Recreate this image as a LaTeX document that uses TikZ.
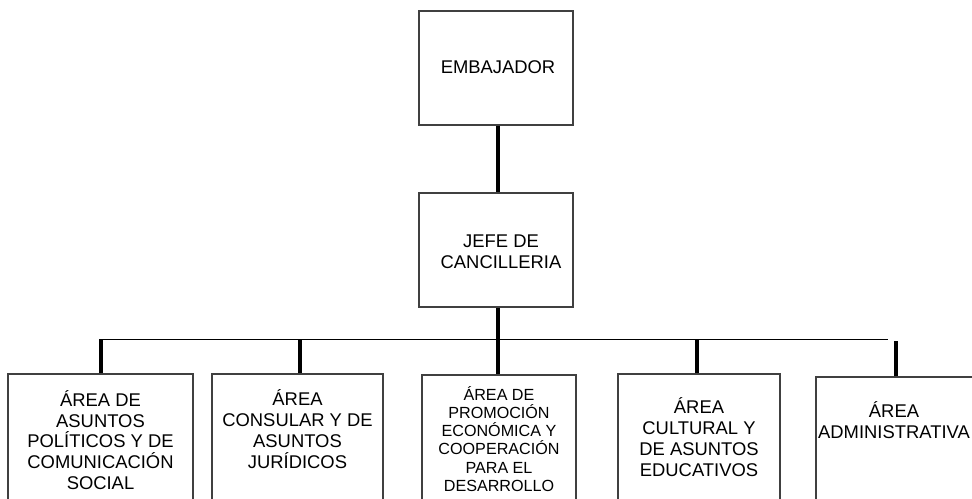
\documentclass[tikz,border=0pt]{standalone}
\usepackage{fontspec}
\setmainfont{Liberation Sans}
\begin{document}
\begin{tikzpicture}[x=0.75pt,y=-0.75pt,
  orgbox/.style={draw=black!75, line width=0.8pt, rectangle, inner sep=0pt},
  conn/.style={line width=2.4pt, black},
  bus/.style={line width=0.75pt, black},
  lbl/.style={align=center, inner sep=0pt, font=\fontsize{13.8}{15.6}\selectfont},
  lblsmall/.style={align=center, inner sep=0pt, font=\fontsize{12.1}{13.6}\selectfont}]
\useasboundingbox (0,0) rectangle (972,499);
\clip (0,0) rectangle (972,499);
% top boxes
\node[orgbox, minimum width=115.5pt, minimum height=85.5pt] (emb) at (496,68) {};
\node[lbl] (embt) at (498,67) {EMBAJADOR};
\node[orgbox, minimum width=115.5pt, minimum height=85.5pt] (jefe) at (496,250) {};
\node[lbl] (jefet) at (501,252) {JEFE DE\\CANCILLERIA};
% bottom boxes (cut off by page bottom)
\node[orgbox, minimum width=138.75pt, minimum height=102pt] (b1) at (100.5,442) {};
\node[orgbox, minimum width=128.25pt, minimum height=102pt] (b2) at (297.5,442) {};
\node[orgbox, minimum width=115.5pt, minimum height=102pt] (b3) at (499,443) {};
\node[orgbox, minimum width=121.5pt, minimum height=102pt] (b4) at (699,442) {};
\node[orgbox, minimum width=120pt, minimum height=102pt] (b5) at (896,445) {};
\node[lbl] (b1t) at (100.5,440) {ÁREA DE\\ASUNTOS\\POLÍTICOS Y DE\\COMUNICACIÓN\\SOCIAL};
\node[lbl] (b2t) at (297.5,429) {ÁREA\\CONSULAR Y DE\\ASUNTOS\\JURÍDICOS};
\node[lblsmall] (b3t) at (499,439) {ÁREA DE\\PROMOCIÓN\\ECONÓMICA Y\\COOPERACIÓN\\PARA EL\\DESARROLLO};
\node[lbl] (b4t) at (699,437) {ÁREA\\CULTURAL Y\\DE ASUNTOS\\EDUCATIVOS};
\node[lbl] (b5t) at (894,420) {ÁREA\\ADMINISTRATIVA};
% connectors
\coordinate (busL) at (101,339);
\coordinate (busR) at (888,339);
\draw[bus] (busL) -- (busR);
\draw[conn] (emb.south -| 498,0) -- (jefe.north -| 498,0);
\draw[conn] (jefe.south -| 498,0) -- (b3.north -| 498,0);
\draw[conn] (b1.north -| 101,0) -- (busL);
\draw[conn] (b2.north -| 300,0) -- (300,339);
\draw[conn] (b4.north -| 697,0) -- (697,339);
\draw[conn] (b5.north) -- (b5.north |- 0,341);
\end{tikzpicture}
\end{document}
